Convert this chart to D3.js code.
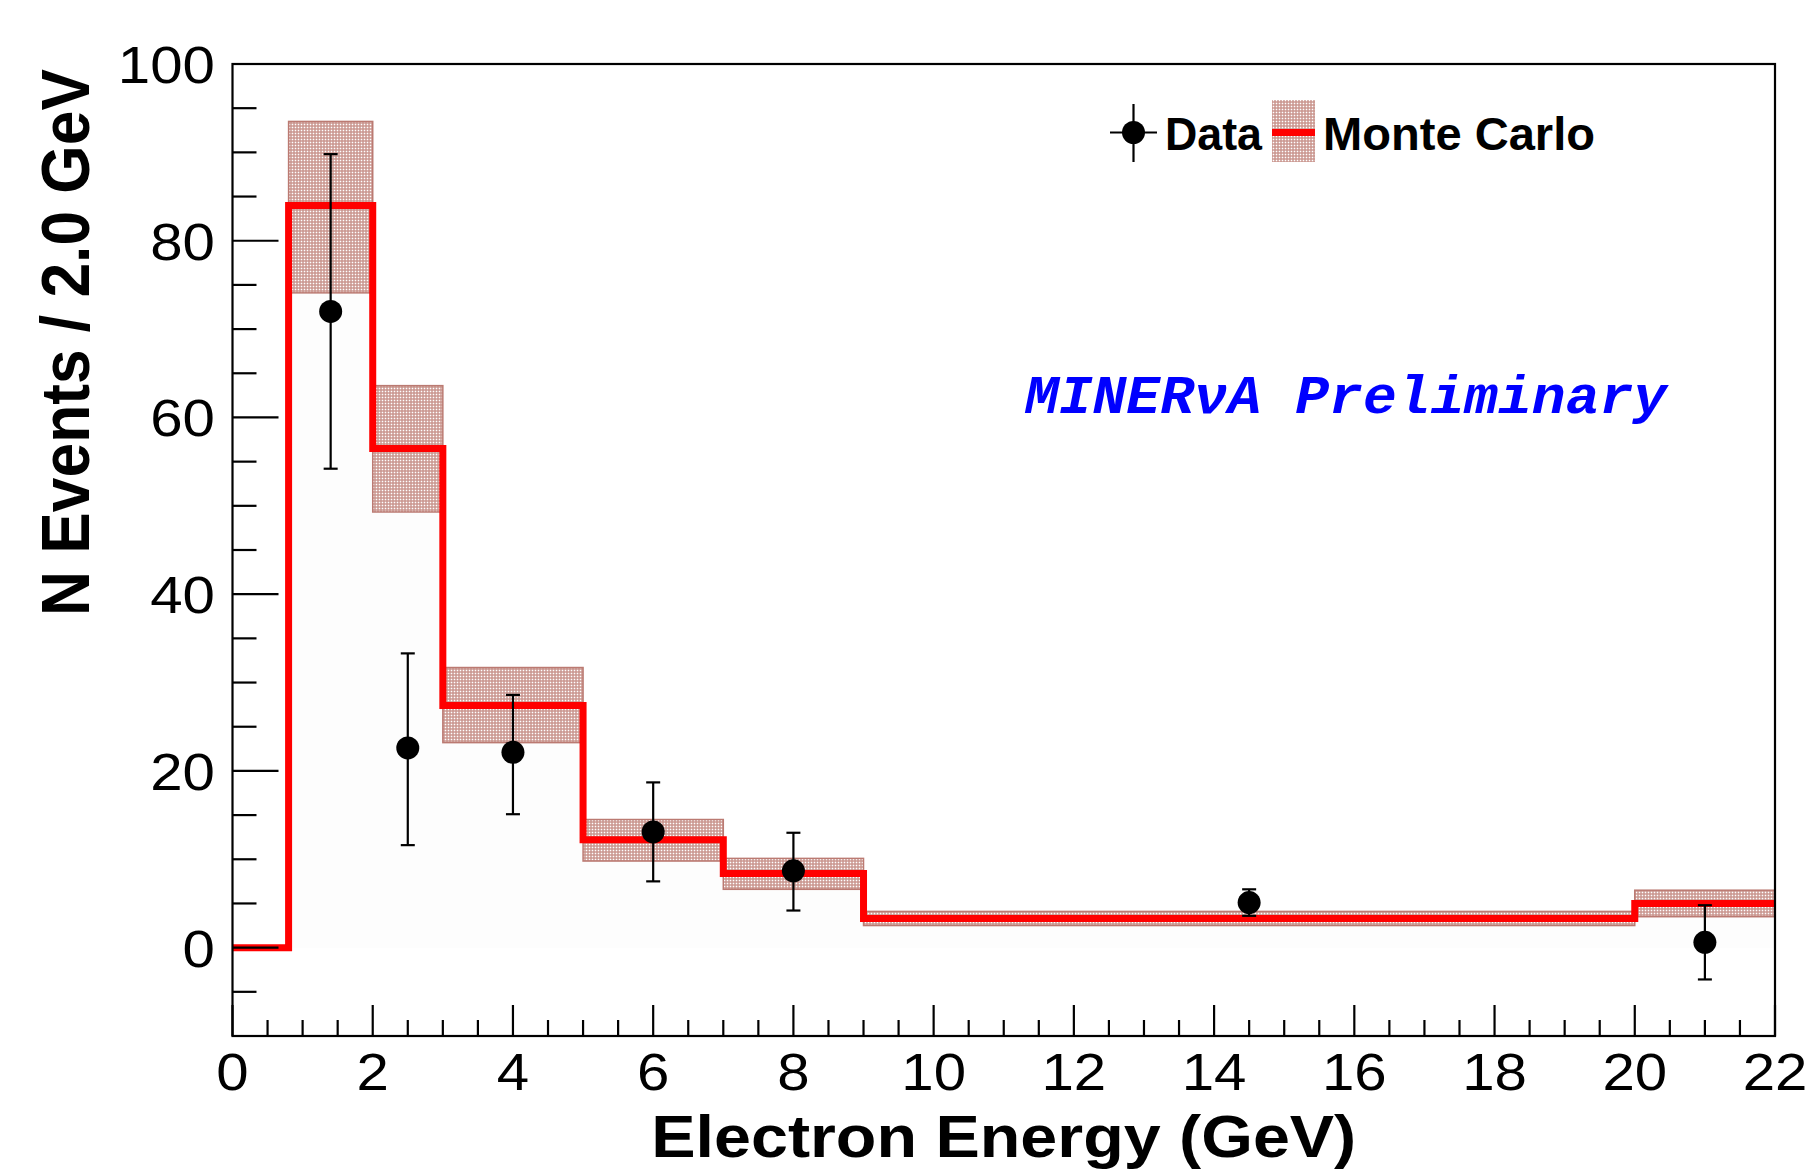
<!DOCTYPE html>
<html>
<head>
<meta charset="utf-8">
<script src="https://cdn.jsdelivr.net/npm/d3@7"></script>
<style>
	html, body { margin: 0; padding: 0; background: #fff; }
	svg { display: block; }
</style>
</head>
<body>
<svg id="svg_energy" width="1806" height="1170"></svg>
<script>
// Monte Carlo histogram (bin edges, contents, systematic band)
var mcEdges = [0, 0.8, 2, 3, 5, 7, 9, 20, 22];
var mcValues = [0, 84.0, 56.5, 27.4, 12.2, 8.4, 3.3, 5.0];
var mcBandLow = [0, 74.1, 49.3, 23.2, 9.8, 6.6, 2.5, 3.5];
var mcBandHigh = [0, 93.5, 63.6, 31.7, 14.5, 10.1, 4.1, 6.5];

// data points with error bars
var dataX = [1.4, 2.5, 4, 6, 8, 14.5, 21];
var dataY = [72.0, 22.6, 22.1, 13.1, 8.7, 5.1, 0.6];
var dataLow = [54.2, 11.6, 15.1, 7.5, 4.2, 3.6, -3.6];
var dataHigh = [89.8, 33.3, 28.6, 18.7, 13.0, 6.6, 4.8];

var xTickValues = [0, 2, 4, 6, 8, 10, 12, 14, 16, 18, 20, 22];
var yTickValues = [0, 20, 40, 60, 80, 100];

var xTitle = "Electron Energy (GeV)";
var yTitle = "N Events / 2.0 GeV";
var legendLabels = ["Data", "Monte Carlo"];

function renderEnergy() {
	var svg = d3.select("#svg_energy"),
		margin = {
			top: 64,
			left: 232.5,
			right: 31,
			bottom: 134
		},
		width = +svg.attr("width"),
		height = +svg.attr("height");

	var x = d3.scaleLinear()
		.domain([0, 22])
		.range([margin.left, width - margin.right]);
	var y = d3.scaleLinear()
		.domain([-10, 100])
		.range([height - margin.bottom, margin.top]);

	var defs = svg.append("defs");
	var pat = defs.append("pattern")
		.attr("id", "band_fill")
		.attr("patternUnits", "userSpaceOnUse")
		.attr("width", 3)
		.attr("height", 3);
	pat.append("rect").attr("width", 3).attr("height", 3).attr("fill", "#c8928b");
	pat.append("rect").attr("x", 0.7).attr("y", 0.7).attr("width", 1.6).attr("height", 1.6).attr("fill", "#ffffff");

	var bins = mcValues.map(function(v, i) {
		return {
			"x0": mcEdges[i],
			"x1": mcEdges[i + 1],
			"value": v,
			"low": mcBandLow[i],
			"high": mcBandHigh[i]
		};
	});

	// faint fill under the histogram
	var area = d3.area()
		.curve(d3.curveStepAfter)
		.x(function(d) { return x(d.x); })
		.y0(y(0))
		.y1(function(d) { return y(d.v); });
	var stepPts = bins.map(function(d) { return {x: d.x0, v: d.value}; });
	stepPts.push({x: 22, v: mcValues[mcValues.length - 1]});
	svg.append("path")
		.attr("d", area(stepPts))
		.attr("fill", "#fdfdfd");

	// systematic band
	svg.append("g").attr("id", "mc_band")
		.selectAll("rect").data(bins.filter(function(d) { return d.high > d.low; }))
		.enter().append("rect")
		.attr("x", function(d) { return x(d.x0); })
		.attr("y", function(d) { return y(d.high); })
		.attr("width", function(d) { return x(d.x1) - x(d.x0); })
		.attr("height", function(d) { return y(d.low) - y(d.high); })
		.attr("fill", "url(#band_fill)")
		.attr("stroke", "#bb7a72")
		.attr("stroke-width", 1.5);

	// red MC step line
	var line = d3.line()
		.curve(d3.curveStepAfter)
		.x(function(d) { return x(d.x); })
		.y(function(d) { return y(d.v); });
	svg.append("path")
		.attr("d", line(stepPts))
		.attr("fill", "none")
		.attr("stroke", "#ff0000")
		.attr("stroke-width", 7)
		.attr("stroke-linejoin", "miter");

	// data points
	var points = dataX.map(function(d, i) {
		return {x: d, y: dataY[i], lo: dataLow[i], hi: dataHigh[i]};
	});
	var g_data = svg.append("g").attr("id", "data_points");
	var pt = g_data.selectAll("g").data(points).enter().append("g");
	pt.append("line")
		.attr("x1", function(d) { return x(d.x); })
		.attr("x2", function(d) { return x(d.x); })
		.attr("y1", function(d) { return y(d.lo); })
		.attr("y2", function(d) { return y(d.hi); })
		.attr("stroke", "#000").attr("stroke-width", 2.2);
	[["lo"], ["hi"]].forEach(function(k) {
		pt.append("line")
			.attr("x1", function(d) { return x(d.x) - 7; })
			.attr("x2", function(d) { return x(d.x) + 7; })
			.attr("y1", function(d) { return y(d[k[0]]); })
			.attr("y2", function(d) { return y(d[k[0]]); })
			.attr("stroke", "#000").attr("stroke-width", 2.2);
	});
	pt.append("circle")
		.attr("cx", function(d) { return x(d.x); })
		.attr("cy", function(d) { return y(d.y); })
		.attr("r", 11.5)
		.attr("fill", "#000");

	// frame and axes
	var g_axis = svg.append("g").attr("id", "axes")
		.attr("stroke", "#000").attr("stroke-width", 2.2);
	g_axis.append("rect")
		.attr("x", x(0)).attr("y", y(100))
		.attr("width", x(22) - x(0)).attr("height", y(-10) - y(100))
		.attr("fill", "none");

	var yMinor = d3.range(-5, 100, 5).filter(function(v) { return v % 20 != 0; });
	g_axis.selectAll("line.ymaj").data(yTickValues).enter().append("line")
		.attr("x1", x(0)).attr("x2", x(0) + 46)
		.attr("y1", function(d) { return y(d); }).attr("y2", function(d) { return y(d); });
	g_axis.selectAll("line.ymin").data(yMinor).enter().append("line")
		.attr("x1", x(0)).attr("x2", x(0) + 24)
		.attr("y1", function(d) { return y(d); }).attr("y2", function(d) { return y(d); });

	var xMinor = d3.range(0.5, 22, 0.5).filter(function(v) { return v % 2 != 0; });
	g_axis.selectAll("line.xmaj").data(xTickValues).enter().append("line")
		.attr("x1", function(d) { return x(d); }).attr("x2", function(d) { return x(d); })
		.attr("y1", y(-10)).attr("y2", y(-10) - 31);
	g_axis.selectAll("line.xmin").data(xMinor).enter().append("line")
		.attr("x1", function(d) { return x(d); }).attr("x2", function(d) { return x(d); })
		.attr("y1", y(-10)).attr("y2", y(-10) - 16);

	var font = "'Liberation Sans', Arial, Helvetica, sans-serif";

	svg.append("g").selectAll("text").data(yTickValues).enter().append("text")
		.attr("transform", function(d) { return "translate(215," + (y(d) + 19) + ") scale(1.12,1)"; })
		.attr("text-anchor", "end")
		.attr("font-family", font)
		.attr("font-size", 52)
		.text(function(d) { return d; });

	svg.append("g").selectAll("text").data(xTickValues).enter().append("text")
		.attr("transform", function(d) { return "translate(" + x(d) + ",1090) scale(1.12,1)"; })
		.attr("text-anchor", "middle")
		.attr("font-family", font)
		.attr("font-size", 52)
		.text(function(d) { return d; });

	svg.append("text")
		.attr("x", (x(0) + x(22)) / 2)
		.attr("y", 1157)
		.attr("text-anchor", "middle")
		.attr("font-family", font)
		.attr("font-weight", "bold")
		.attr("font-size", 59)
		.attr("textLength", 705)
		.attr("lengthAdjust", "spacingAndGlyphs")
		.text(xTitle);

	svg.append("g")
		.attr("transform", "translate(89,69) scale(1.12,1) rotate(-90)")
		.append("text")
		.attr("text-anchor", "end")
		.attr("font-family", font)
		.attr("font-weight", "bold")
		.attr("font-size", 62)
		.attr("textLength", 547)
		.attr("lengthAdjust", "spacingAndGlyphs")
		.text(yTitle);

	// legend
	var g_leg = svg.append("g").attr("id", "legend");
	g_leg.append("line").attr("x1", 1110).attr("x2", 1157).attr("y1", 132.5).attr("y2", 132.5)
		.attr("stroke", "#000").attr("stroke-width", 2.2);
	g_leg.append("line").attr("x1", 1133.5).attr("x2", 1133.5).attr("y1", 104).attr("y2", 162)
		.attr("stroke", "#000").attr("stroke-width", 2.2);
	g_leg.append("circle").attr("cx", 1133.5).attr("cy", 132.5).attr("r", 11.5).attr("fill", "#000");
	g_leg.append("text")
		.attr("x", 1165).attr("y", 150)
		.attr("font-family", font).attr("font-weight", "bold").attr("font-size", 46)
		.attr("textLength", 97).attr("lengthAdjust", "spacingAndGlyphs")
		.text(legendLabels[0]);
	g_leg.append("rect")
		.attr("x", 1272).attr("y", 100).attr("width", 43).attr("height", 62)
		.attr("fill", "url(#band_fill)");
	g_leg.append("line").attr("x1", 1272).attr("x2", 1315).attr("y1", 132.5).attr("y2", 132.5)
		.attr("stroke", "#ff0000").attr("stroke-width", 7);
	g_leg.append("text")
		.attr("x", 1323).attr("y", 150)
		.attr("font-family", font).attr("font-weight", "bold").attr("font-size", 46)
		.attr("textLength", 272).attr("lengthAdjust", "spacingAndGlyphs")
		.text(legendLabels[1]);

	svg.append("text")
		.attr("x", 1025).attr("y", 413)
		.attr("font-family", "'Liberation Mono', 'Courier New', monospace")
		.attr("font-weight", "bold")
		.attr("font-style", "italic")
		.attr("font-size", 54)
		.attr("fill", "#0000ff")
		.attr("textLength", 642)
		.attr("lengthAdjust", "spacingAndGlyphs")
		.text("MINER\u03bdA Preliminary");
}

renderEnergy();
</script>
</body>
</html>
